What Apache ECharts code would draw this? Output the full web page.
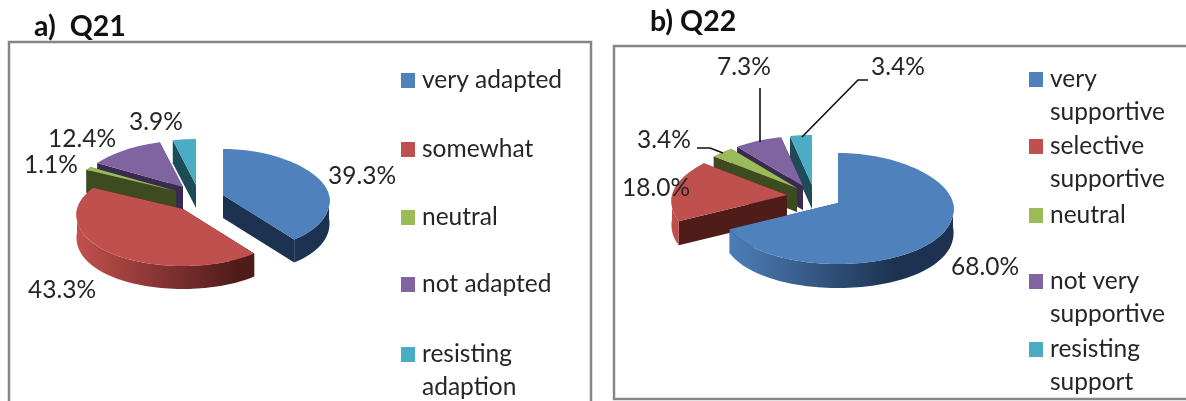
<!DOCTYPE html>
<html>
<head>
<meta charset="utf-8">
<style>
  html, body { margin: 0; padding: 0; background: #ffffff; }
  #main { width: 1186px; height: 401px; }
</style>
</head>
<body>
<div id="main"></div>
<script src="https://cdn.jsdelivr.net/npm/echarts@6/dist/echarts.min.js"></script>
<script>
  const q21Categories = ['very adapted', 'somewhat', 'neutral', 'not adapted', 'resisting\nadaption'];
  const q21Values = [39.3, 43.3, 1.1, 12.4, 3.9];
  const q22Categories = ['very\nsupportive', 'selective\nsupportive', 'neutral', 'not very\nsupportive', 'resisting\nsupport'];
  const q22Values = [68.0, 18.0, 3.4, 7.3, 3.4];

  const topColors = ['#4f81bd', '#c0504d', '#9bbb59', '#8064a2', '#4bacc6'];
  const wallDark = ['#1c3250', '#4f1c1a', '#3e4a20', '#392a50', '#1d4c58'];
  const FONT = 'Lato, "Noto Sans", sans-serif';
  const TEXT = '#262626';

  // pie shape and exploded slice offsets, angles always come from the values
  const panelA = {
    values: q21Values, categories: q21Categories,
    center: [200, 203], rx: 106, ryBack: 46, ryFront: 57, depth: 23,
    explode: [[23, -8], [-17, 6], [-24, -12], [-17, -16], [-4, -18]],
    drawOrder: [4, 3, 2, 0, 1],
    labelPos: [[362, 176], [62, 290], [51, 165], [82, 139], [156, 122]],
    legendX: 401, legendY: [73, 142, 210, 277, 347]
  };
  const panelB = {
    values: q22Values, categories: q22Categories,
    center: [830, 195], rx: 115, ryBack: 50, ryFront: 61, depth: 24,
    explode: [[8, 8], [-43, 0], [-33, -7], [-27, -9], [-18, -10]],
    drawOrder: [4, 3, 2, 1, 0],
    labelPos: [[985, 267], [656, 188], [664, 140], [744, 67], [898, 67]],
    legendX: 1029, legendY: [72, 139, 208, 274, 342]
  };

  function rimPoint(p, apex, deg, dy) {
    const t = deg * Math.PI / 180, c = Math.cos(t), s = Math.sin(t);
    return [
      apex[0] + s * p.rx * (1 - 0.1 * c),
      apex[1] + dy - c * (c > 0 ? p.ryBack : p.ryFront)
    ];
  }

  function arcPoints(p, apex, from, to, dy) {
    const pts = [];
    const n = Math.max(2, Math.ceil((to - from) / 2));
    for (let k = 0; k <= n; k++) {
      pts.push(rimPoint(p, apex, from + (to - from) * k / n, dy));
    }
    return pts;
  }

  function renderSlice(p, api) {
    const i = api.value(0);
    const total = p.values.reduce((a, b) => a + b, 0);
    const before = p.values.slice(0, i).reduce((a, b) => a + b, 0);
    const start = before / total * 360;
    const end = start + api.value(1) / total * 360;
    const apex = [p.center[0] + p.explode[i][0], p.center[1] + p.explode[i][1]];
    const d = p.depth;
    const children = [];

    // radial side faces
    [start, end].forEach((deg) => {
      const r0 = rimPoint(p, apex, deg, 0), r1 = rimPoint(p, apex, deg, d);
      children.push({
        type: 'polygon',
        shape: { points: [apex, r0, r1, [apex[0], apex[1] + d]] },
        style: { fill: wallDark[i] }
      });
    });

    // curved outer wall, only the part that faces the viewer
    const wallFrom = Math.max(start, 90), wallTo = Math.min(end, 270);
    if (wallTo > wallFrom) {
      const upper = arcPoints(p, apex, wallFrom, wallTo, 0);
      const lower = arcPoints(p, apex, wallFrom, wallTo, d).reverse();
      children.push({
        type: 'polygon',
        shape: { points: upper.concat(lower) },
        style: {
          fill: {
            type: 'linear', global: true,
            x: apex[0] - p.rx, y: 0, x2: apex[0] + p.rx, y2: 0,
            colorStops: [
              { offset: 0, color: topColors[i] },
              { offset: 0.75, color: wallDark[i] },
              { offset: 1, color: wallDark[i] }
            ]
          }
        }
      });
    }

    // top face
    children.push({
      type: 'polygon',
      shape: { points: [apex].concat(arcPoints(p, apex, start, end, 0)) },
      style: { fill: topColors[i] }
    });

    return { type: 'group', children: children };
  }

  function pieSeries(p) {
    return {
      type: 'custom',
      coordinateSystem: 'none',
      silent: true,
      animation: false,
      clip: false,
      data: p.drawOrder.map((i) => [i, p.values[i]]),
      renderItem: (params, api) => renderSlice(p, api)
    };
  }

  function labelGraphics(p) {
    return p.values.map((v, i) => ({
      type: 'text', z: 20,
      x: p.labelPos[i][0], y: p.labelPos[i][1],
      style: {
        text: v.toFixed(1) + '%', font: '24.5px ' + FONT, fill: TEXT,
        align: 'center', verticalAlign: 'middle'
      }
    }));
  }

  function legendGraphics(p) {
    const out = [];
    p.categories.forEach((name, i) => {
      out.push({
        type: 'rect', z: 20,
        shape: { x: p.legendX, y: p.legendY[i], width: 14, height: 15 },
        style: { fill: topColors[i] }
      });
      out.push({
        type: 'text', z: 20,
        x: p.legendX + 21, y: p.legendY[i] - 9,
        style: {
          text: name, font: '24.5px ' + FONT, fill: TEXT,
          lineHeight: 32.5, align: 'left', verticalAlign: 'top'
        }
      });
    });
    return out;
  }

  function leader(points) {
    return {
      type: 'polyline', z: 15,
      shape: { points: points },
      style: { stroke: '#111111', lineWidth: 1.6, fill: null }
    };
  }

  const frameStyle = { stroke: '#868686', lineWidth: 2.5, fill: null };

  const myChart = echarts.init(document.getElementById('main'), null, { renderer: 'canvas' });
  myChart.setOption({
    backgroundColor: '#ffffff',
    animation: false,
    series: [pieSeries(panelA), pieSeries(panelB)],
    graphic: {
      elements: [
        { type: 'rect', z: 1, shape: { x: 9, y: 42, width: 582, height: 380 }, style: frameStyle },
        { type: 'rect', z: 1, shape: { x: 614, y: 46, width: 600, height: 353 }, style: frameStyle },
        {
          type: 'text', z: 20, x: 34, y: 27,
          style: { text: 'a)  Q21', font: 'bold 28.5px ' + FONT, fill: '#111111', verticalAlign: 'middle' }
        },
        {
          type: 'text', z: 20, x: 650, y: 22,
          style: { text: 'b) Q22', font: 'bold 28.5px ' + FONT, fill: '#111111', verticalAlign: 'middle' }
        },
        leader([[760, 88], [760, 142]]),
        leader([[868, 80], [858, 80], [802, 137]]),
        leader([[697, 148], [710, 148], [723, 153]])
      ].concat(labelGraphics(panelA), labelGraphics(panelB), legendGraphics(panelA), legendGraphics(panelB))
    }
  });
</script>
</body>
</html>
